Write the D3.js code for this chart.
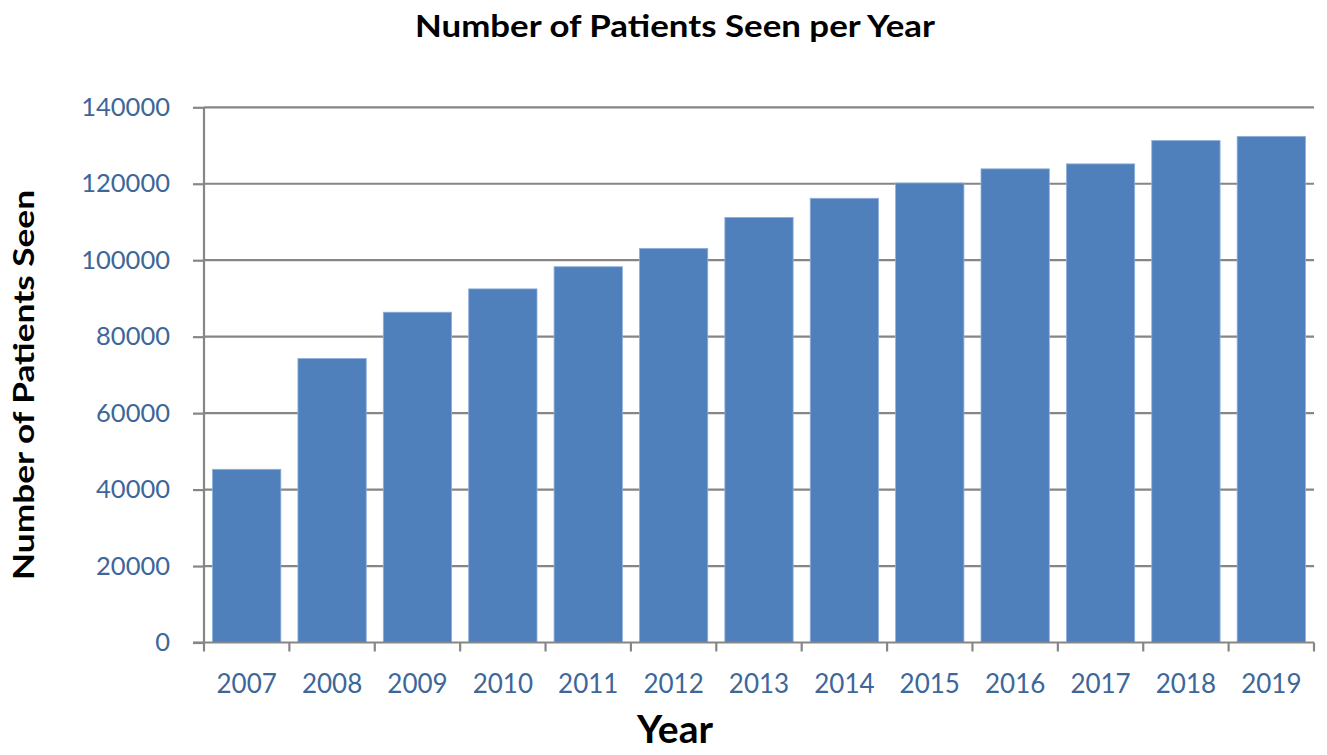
<!DOCTYPE html>
<html><head><meta charset="utf-8">
<script src="https://cdn.jsdelivr.net/npm/d3@7"></script>
<style>body{margin:0;background:#fff}svg{display:block}</style>
</head><body>
<svg id="c" width="1327" height="755"></svg>
<script>
const years = ["2007","2008","2009","2010","2011","2012","2013","2014","2015","2016","2017","2018","2019"];
const patients = [45300,74300,86400,92500,98300,103100,111200,116200,120200,123900,125200,131300,132400];
const yTicks = [0,20000,40000,60000,80000,100000,120000,140000];
const chartTitle = "Number of Patients Seen per Year";
const xTitle = "Year";
const yTitle = "Number of Patients Seen";

const svg = d3.select("#c");
const L=204, R=1314, T=107.3, B=642.5;
const x = d3.scaleBand().domain(years).range([L,R]).paddingInner(0.2).paddingOuter(0.1);
const y = d3.scaleLinear().domain([0,140000]).range([B,T]);
const grid="#868686", tickCol="#3d6699", font="Lato, 'Open Sans', sans-serif";

// gridlines
svg.append("g").selectAll("line").data(yTicks.filter(d=>d>0)).join("line")
  .attr("x1",L).attr("x2",R).attr("y1",d=>y(d)).attr("y2",d=>y(d))
  .attr("stroke",grid).attr("stroke-width",2.2);

// bars
svg.append("g").selectAll("rect").data(years).join("rect")
  .attr("x",d=>x(d)).attr("width",x.bandwidth())
  .attr("y",(d,i)=>y(patients[i])).attr("height",(d,i)=>B-y(patients[i]))
  .attr("fill","#4f80bc").attr("stroke","#8fb0da").attr("stroke-width",0.8);

// y axis
const ya = svg.append("g").attr("transform",`translate(${L},0)`)
  .call(d3.axisLeft(y).tickValues(yTicks).tickSize(11).tickPadding(23).tickFormat(d3.format("d")));
ya.select(".domain").attr("stroke",grid).attr("stroke-width",2.2).attr("d",`M0,${T}V${B}`);
ya.selectAll(".tick line").attr("stroke",grid).attr("stroke-width",2.2);
ya.selectAll(".tick text").attr("fill",tickCol).style("font-family",font).style("font-size","25.5px");

// x axis
const xa = svg.append("g").attr("transform",`translate(0,${B})`)
  .call(d3.axisBottom(x).tickSize(0).tickPadding(32));
xa.select(".domain").attr("stroke",grid).attr("stroke-width",2.2).attr("d",`M${L-11},0H${R}`);
xa.selectAll(".tick text").attr("fill",tickCol).style("font-family",font).style("font-size","26px");
const bounds = [...years.map(d=>x(d)-x.step()*x.paddingInner()/2), R];
bounds[0]=L;
svg.append("g").selectAll("line").data(bounds).join("line")
  .attr("x1",d=>d).attr("x2",d=>d).attr("y1",B).attr("y2",B+9)
  .attr("stroke",grid).attr("stroke-width",2.2);

// titles
svg.append("text").attr("x",675).attr("y",37).attr("text-anchor","middle")
  .attr("textLength",520).attr("lengthAdjust","spacingAndGlyphs")
  .style("font-family",font).style("font-weight","bold").style("font-size","30px").text(chartTitle);
svg.append("text").attr("x",675).attr("y",743).attr("text-anchor","middle")
  .attr("textLength",76).attr("lengthAdjust","spacingAndGlyphs")
  .style("font-family",font).style("font-weight","bold").style("font-size","39px").text(xTitle);
svg.append("text").attr("transform","translate(34,385) rotate(-90)").attr("text-anchor","middle")
  .attr("textLength",390).attr("lengthAdjust","spacingAndGlyphs")
  .style("font-family",font).style("font-weight","bold").style("font-size","29px").text(yTitle);
</script>
</body></html>
